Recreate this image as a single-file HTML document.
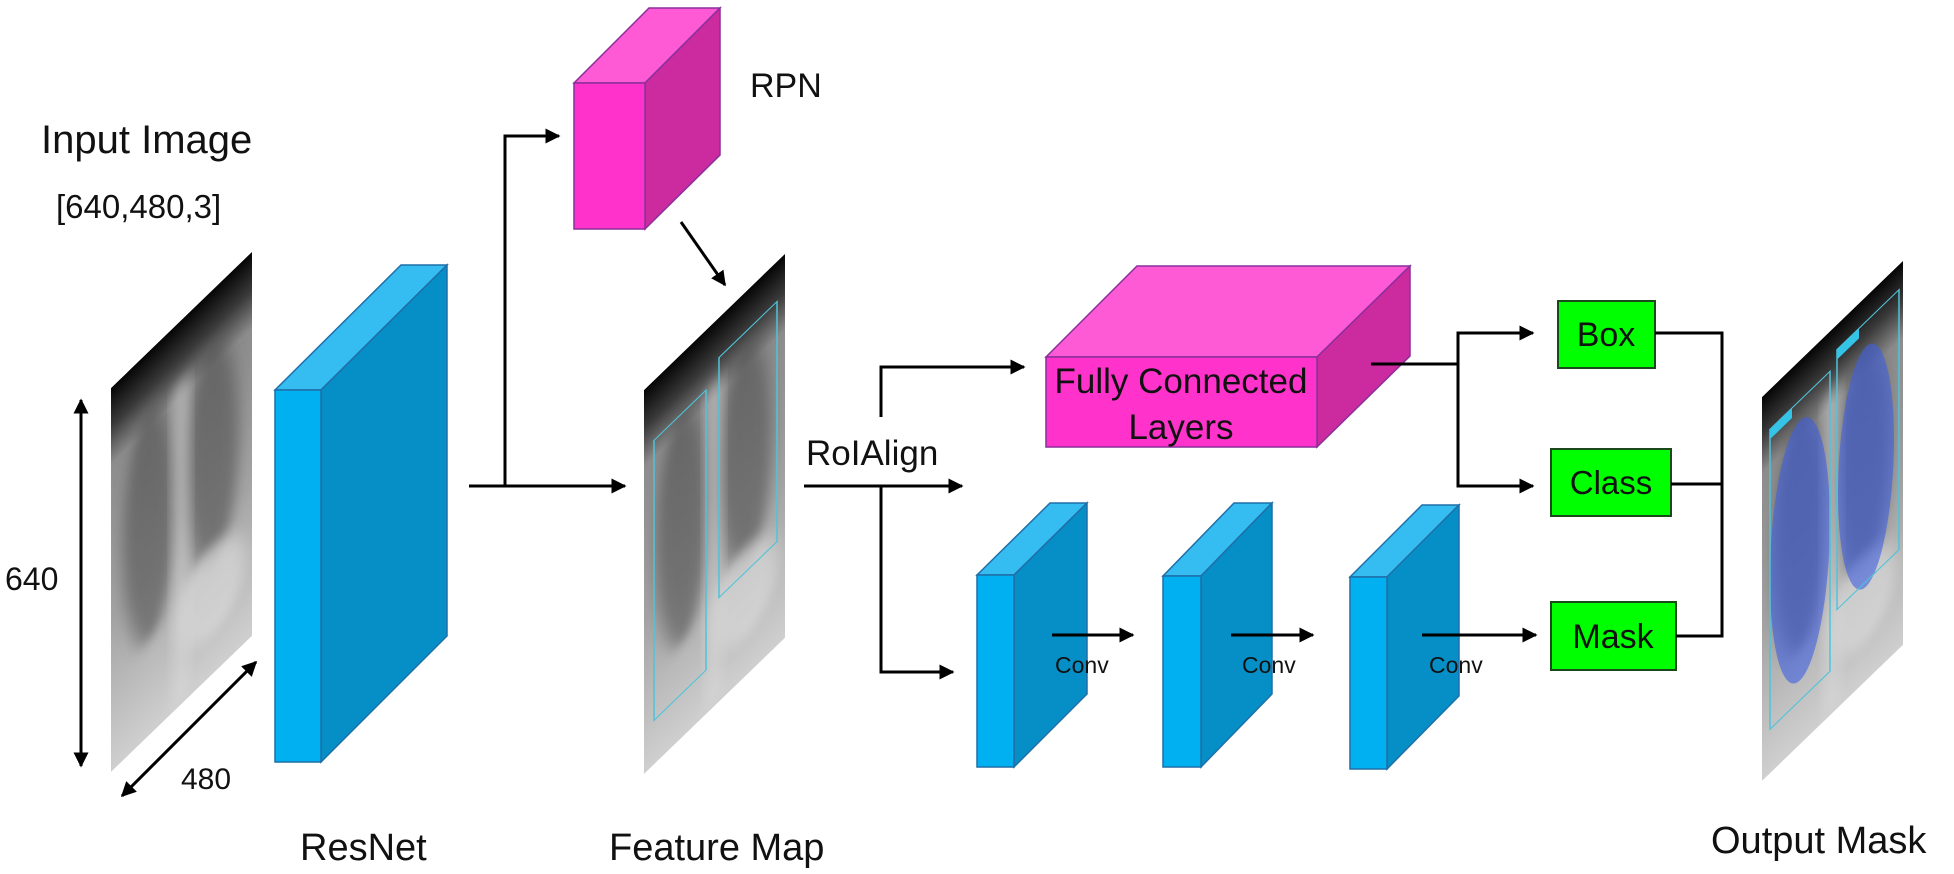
<!DOCTYPE html>
<html><head><meta charset="utf-8"><style>
html,body{margin:0;padding:0;background:#fff;}
svg{display:block;}
text{font-family:"Liberation Sans",sans-serif;fill:#111;}
</style></head><body>
<svg width="1954" height="874" viewBox="0 0 1954 874" xmlns="http://www.w3.org/2000/svg">
<defs>
<marker id="ah" viewBox="0 0 10 10" refX="9" refY="5" markerWidth="5" markerHeight="5" orient="auto-start-reverse" markerUnits="strokeWidth">
<path d="M0,0 L10,5 L0,10 z" fill="#000"/></marker>
<linearGradient id="xg" x1="0" y1="0" x2="0" y2="1">
<stop offset="0" stop-color="#050505"/><stop offset="0.1" stop-color="#3a3a3a"/><stop offset="0.2" stop-color="#8c8c8c"/><stop offset="0.6" stop-color="#a4a4a4"/><stop offset="1" stop-color="#cfcfcf"/></linearGradient>
<filter id="bl" x="-50%" y="-50%" width="200%" height="200%"><feGaussianBlur stdDeviation="7"/></filter>
<g id="xray">
<rect x="0" y="0" width="141" height="384" fill="url(#xg)"/>
<ellipse cx="38" cy="175" rx="26" ry="115" fill="#4a4a4a" opacity="0.55" filter="url(#bl)"/>
<ellipse cx="102" cy="165" rx="26" ry="110" fill="#4a4a4a" opacity="0.55" filter="url(#bl)"/>
<rect x="63" y="60" width="14" height="320" fill="#e0e0e0" opacity="0.5" filter="url(#bl)"/>
<ellipse cx="100" cy="300" rx="34" ry="45" fill="#d8d8d8" opacity="0.7" filter="url(#bl)"/>
</g>
<clipPath id="xc"><rect x="0" y="0" width="141" height="384"/></clipPath>
</defs>

<!-- labels -->
<text x="41" y="153" font-size="40">Input Image</text>
<text x="56" y="218" font-size="33">[640,480,3]</text>
<text x="750" y="97" font-size="34">RPN</text>
<text x="5" y="590" font-size="32">640</text>
<text x="181" y="789" font-size="30">480</text>
<text x="300" y="860" font-size="38">ResNet</text>
<text x="609" y="860" font-size="38">Feature Map</text>
<text x="1711" y="853" font-size="38">Output Mask</text>
<text x="806" y="465" font-size="35">RoIAlign</text>

<!-- input xray -->
<g transform="translate(111,388) skewY(-44)" clip-path="url(#xc)"><use href="#xray"/></g>
<!-- feature map xray -->
<g transform="translate(644,390) skewY(-44)" clip-path="url(#xc)"><use href="#xray"/>
<rect x="10" y="60" width="52" height="280" fill="none" stroke="#4fc3d9" stroke-width="1.5"/>
<rect x="75" y="40" width="58" height="240" fill="none" stroke="#4fc3d9" stroke-width="1.5"/></g>
<!-- output xray -->
<g transform="translate(1762,397) skewY(-44)" clip-path="url(#xc)"><use href="#xray"/>
<ellipse cx="38" cy="190" rx="30" ry="130" fill="#3f5fe0" opacity="0.6"/>
<ellipse cx="104" cy="170" rx="28" ry="120" fill="#3f5fe0" opacity="0.6"/>
<rect x="8" y="40" width="60" height="300" fill="none" stroke="#4fc3d9" stroke-width="1.5"/>
<rect x="75" y="25" width="62" height="260" fill="none" stroke="#4fc3d9" stroke-width="1.5"/>
<rect x="8" y="40" width="22" height="10" fill="#33c4e8"/><rect x="75" y="25" width="22" height="10" fill="#33c4e8"/></g>

<!-- ResNet block -->
<g stroke="#1f6fa8" stroke-width="1.5">
<polygon points="275,390 321,390 447,265 401,265" fill="#35bdf2"/>
<polygon points="321,390 447,265 447,636 321,762" fill="#068fc6"/>
<rect x="275" y="390" width="46" height="372" fill="#00b0f0"/>
</g>

<!-- RPN block -->
<g stroke="#8a2f9a" stroke-width="1.5">
<polygon points="574,83 645,83 720,8 649,8" fill="#ff5ad6"/>
<polygon points="645,83 720,8 720,155 645,229" fill="#cc2a9f"/>
<rect x="574" y="83" width="71" height="146" fill="#ff33cc"/>
</g>

<!-- FC block -->
<g stroke="#8a2f9a" stroke-width="1.5">
<polygon points="1046,357 1317,357 1410,266 1137,266" fill="#ff5ad6"/>
<polygon points="1317,357 1410,266 1410,356 1317,447" fill="#cc2a9f"/>
<rect x="1046" y="357" width="271" height="90" fill="#ff33cc"/>
</g>
<text x="1181" y="393" font-size="35" text-anchor="middle">Fully Connected</text>
<text x="1181" y="439" font-size="35" text-anchor="middle">Layers</text>

<!-- Conv blocks -->
<g stroke="#1f6fa8" stroke-width="1.5">
<polygon points="977,575 1014,575 1087,503 1050,503" fill="#35bdf2"/>
<polygon points="1014,575 1087,503 1087,694 1014,767" fill="#068fc6"/>
<rect x="977" y="575" width="37" height="192" fill="#00b0f0"/>
<polygon points="1163,576 1201,576 1272,503 1234,503" fill="#35bdf2"/>
<polygon points="1201,576 1272,503 1272,694 1201,767" fill="#068fc6"/>
<rect x="1163" y="576" width="38" height="191" fill="#00b0f0"/>
<polygon points="1350,577 1387,577 1459,505 1422,505" fill="#35bdf2"/>
<polygon points="1387,577 1459,505 1459,696 1387,769" fill="#068fc6"/>
<rect x="1350" y="577" width="37" height="192" fill="#00b0f0"/>
</g>
<text x="1055" y="673" font-size="23">Conv</text>
<text x="1242" y="673" font-size="23">Conv</text>
<text x="1429" y="673" font-size="23">Conv</text>

<!-- output boxes -->
<g stroke="#1a4a1a" stroke-width="2">
<rect x="1558" y="301" width="97" height="67" fill="#00ff00"/>
<rect x="1551" y="449" width="120" height="67" fill="#00ff00"/>
<rect x="1551" y="602" width="125" height="68" fill="#00ff00"/>
</g>
<text x="1606" y="346" font-size="34" text-anchor="middle">Box</text>
<text x="1611" y="494" font-size="33" text-anchor="middle">Class</text>
<text x="1613" y="648" font-size="34" text-anchor="middle">Mask</text>

<!-- connectors -->
<g stroke="#000" stroke-width="3" fill="none">
<line x1="81" y1="766" x2="81" y2="400" marker-start="url(#ah)" marker-end="url(#ah)"/>
<line x1="122" y1="796" x2="256" y2="662" marker-start="url(#ah)" marker-end="url(#ah)"/>
<line x1="469" y1="486" x2="625" y2="486" marker-end="url(#ah)"/>
<polyline points="505,486 505,136 559,136" marker-end="url(#ah)"/>
<line x1="681" y1="222" x2="725" y2="285" marker-end="url(#ah)"/>
<line x1="804" y1="486" x2="962" y2="486" marker-end="url(#ah)"/>
<polyline points="881,486 881,672 953,672" marker-end="url(#ah)"/>
<polyline points="881,417 881,367 1024,367" marker-end="url(#ah)"/>
<line x1="1371" y1="364" x2="1458" y2="364"/>
<polyline points="1533,333 1458,333 1458,486 1533,486" marker-start="url(#ah)" marker-end="url(#ah)"/>
<line x1="1052" y1="635" x2="1133" y2="635" marker-end="url(#ah)"/>
<line x1="1231" y1="635" x2="1313" y2="635" marker-end="url(#ah)"/>
<line x1="1422" y1="635" x2="1536" y2="635" marker-end="url(#ah)"/>
<polyline points="1655,333 1722,333 1722,636 1676,636"/>
<line x1="1671" y1="484" x2="1722" y2="484"/>
</g>
</svg>
</body></html>
